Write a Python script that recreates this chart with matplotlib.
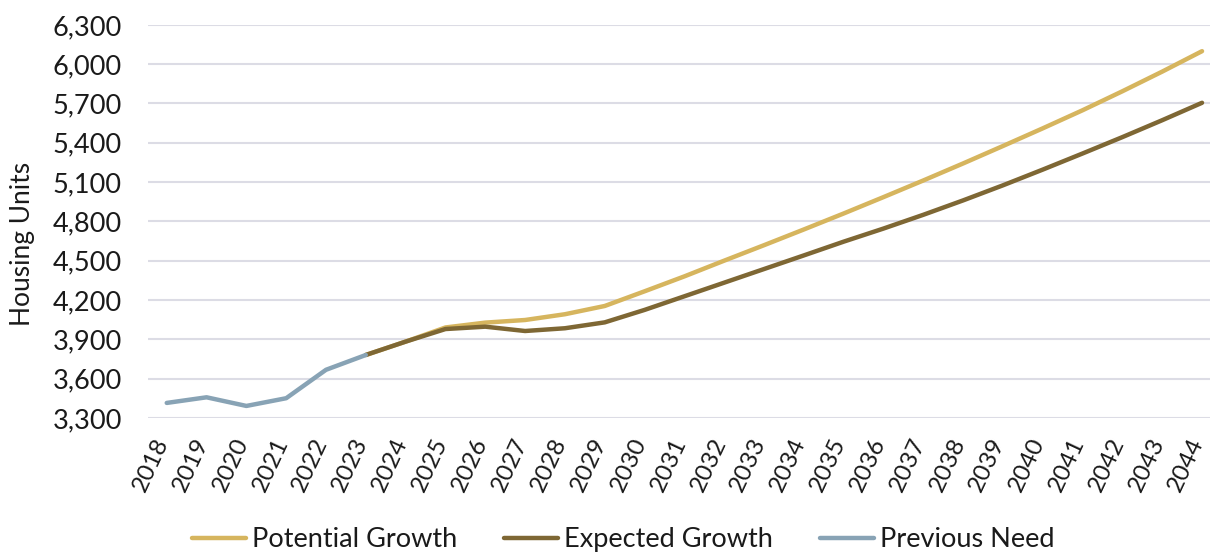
import matplotlib
matplotlib.use('Agg')
import matplotlib.pyplot as plt
import matplotlib.transforms as mtransforms
from matplotlib.ticker import FuncFormatter

plt.rcParams['font.family'] = ['Lato', 'DejaVu Sans']

prev_years = [2018, 2019, 2020, 2021, 2022, 2023]
prev_need = [3414, 3457, 3391, 3450, 3667, 3780]

years = list(range(2023, 2045))
potential = [3780, 3882, 3990, 4027, 4047, 4091, 4154, 4266, 4380, 4500, 4618,
             4738, 4860, 4985, 5112, 5242, 5375, 5510, 5648, 5793, 5943, 6099]
expected = [3780, 3882, 3978, 3996, 3963, 3984, 4029, 4124, 4228, 4332, 4436,
            4540, 4645, 4745, 4850, 4960, 5075, 5195, 5318, 5443, 5572, 5705]

c_pot = '#D6B55E'
c_exp = '#7E6734'
c_prev = '#88A3B5'
txt = '#1a1a1a'

fig = plt.figure(figsize=(12.1, 5.52), dpi=100)
ax = fig.add_axes([0.122, 0.243, 0.878, 0.712])

ax.plot(years, potential, color=c_pot, linewidth=3.2, solid_capstyle='round', label='Potential Growth')
ax.plot(years, expected, color=c_exp, linewidth=3.2, solid_capstyle='round', label='Expected Growth')
ax.plot(prev_years, prev_need, color=c_prev, linewidth=3.2, solid_capstyle='round', label='Previous Need')

ax.set_ylim(3300, 6300)
ax.set_yticks(range(3300, 6301, 300))
ax.yaxis.set_major_formatter(FuncFormatter(lambda v, p: f'{int(v):,}'))
ax.set_xlim(2017.52, 2044.2)
all_years = list(range(2018, 2045))
ax.set_xticks(all_years)
ax.set_xticklabels([str(y) for y in all_years], rotation=65, ha='right', va='center_baseline',
                   rotation_mode='anchor')

ax.grid(axis='y', color='#DCDCE5', linewidth=1.5)
ax.set_axisbelow(True)
for s in ax.spines.values():
    s.set_visible(False)
ax.tick_params(axis='both', length=0, colors=txt)
ax.tick_params(axis='y', pad=18.5, labelsize=19.5)
ax.tick_params(axis='x', pad=15, labelsize=17.5)

# nudge the rotated year labels left so the last one stays inside the figure
shift = mtransforms.ScaledTranslation(-4 / 72, 0, fig.dpi_scale_trans)
for lbl in ax.get_xticklabels():
    lbl.set_transform(lbl.get_transform() + shift)

ax.set_ylabel('Housing Units', fontsize=19, color=txt)
ax.yaxis.set_label_coords(-0.106, 0.443)

fig.legend(loc='lower center', bbox_to_anchor=(0.515, -0.045), ncol=3, frameon=False,
           fontsize=19.5, handlelength=2.0, handletextpad=0.2, columnspacing=1.75,
           labelcolor=txt)

fig.savefig('out.png', dpi=100)
